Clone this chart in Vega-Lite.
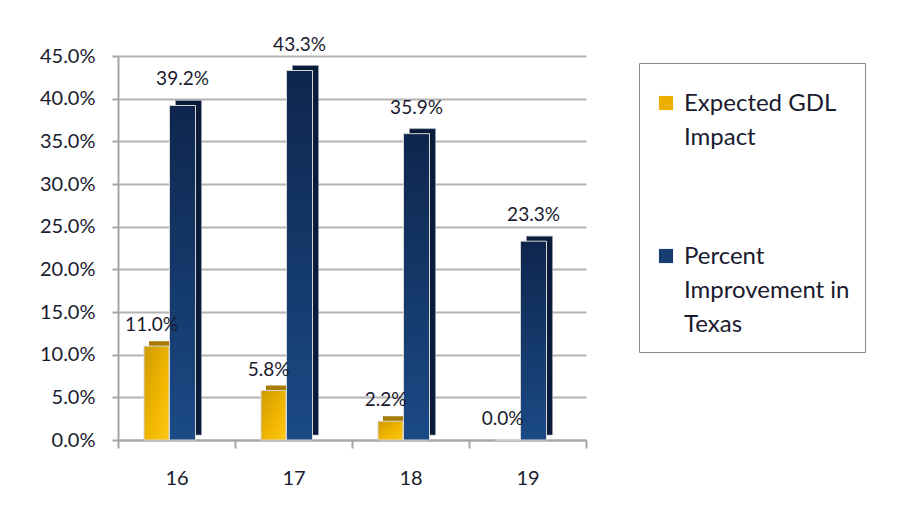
{
  "$schema": "https://vega.github.io/schema/vega-lite/v6.json",
  "width": 468,
  "height": 384,
  "autosize": "none",
  "padding": {"left": 118, "top": 56, "right": 319, "bottom": 83},
  "background": "white",
  "config": {"font": "Lato", "view": {"stroke": null}, "style": {"guide-label": {"lineHeight": 34}}},
  "data": {"values": [
    {"cat": "16", "series": "Expected GDL Impact", "value": 0.110},
    {"cat": "16", "series": "Percent Improvement in Texas", "value": 0.392},
    {"cat": "17", "series": "Expected GDL Impact", "value": 0.058},
    {"cat": "17", "series": "Percent Improvement in Texas", "value": 0.433},
    {"cat": "18", "series": "Expected GDL Impact", "value": 0.022},
    {"cat": "18", "series": "Percent Improvement in Texas", "value": 0.359},
    {"cat": "19", "series": "Expected GDL Impact", "value": 0.000},
    {"cat": "19", "series": "Percent Improvement in Texas", "value": 0.233}
  ]},
  "encoding": {
    "x": {
      "field": "cat", "type": "nominal", "title": null,
      "scale": {"paddingInner": 0, "paddingOuter": 0},
      "axis": {"labelAngle": 0, "labelFontSize": 20, "labelColor": "#1a1a2e", "labelPadding": 20,
               "domainColor": "#a6a6a6", "domainWidth": 2, "tickColor": "#a6a6a6", "tickWidth": 2, "tickSize": 8,
               "tickBand": "extent"}
    },
    "y": {
      "field": "value", "type": "quantitative", "title": null,
      "scale": {"domain": [0, 0.45], "nice": false},
      "axis": {"format": ".1%", "values": [0, 0.05, 0.1, 0.15, 0.2, 0.25, 0.3, 0.35, 0.4, 0.45],
               "labelFontSize": 20, "labelColor": "#1a1a2e", "labelPadding": 17,
               "domainColor": "#a6a6a6", "domainWidth": 2, "tickColor": "#a6a6a6", "tickWidth": 2, "tickSize": 6,
               "grid": true, "gridColor": "#b3b3b3", "gridWidth": 2}
    }
  },
  "layer": [
    {
      "transform": [{"filter": "datum.series == 'Expected GDL Impact'"}],
      "mark": {"type": "bar", "width": 25, "xOffset": -15, "yOffset": -5, "y2Offset": 3, "color": "#A87C00"}
    },
    {
      "transform": [{"filter": "datum.series == 'Percent Improvement in Texas'"}],
      "mark": {"type": "bar", "width": 26, "xOffset": 12, "yOffset": -5, "color": "#0A1C3A", "stroke": "#9aa3b3", "strokeWidth": 0.6}
    },
    {
      "mark": {"type": "bar", "width": 25, "xOffset": -20},
      "transform": [{"filter": "datum.series == 'Expected GDL Impact'"}],
      "encoding": {
        "color": {
          "field": "series", "type": "nominal", "title": " ",
          "scale": {"domain": ["Expected GDL Impact", "Percent Improvement in Texas"], "range": ["#EBB000", "#173E72"]},
          "legend": {
            "orient": "none", "legendX": 521, "legendY": 7,
            "strokeColor": "#8a8a8a", "fillColor": "white", "padding": 15,
            "titleFontSize": 9, "titlePadding": 4,
            "labelFontSize": 24, "labelColor": "#1a1a2e", "labelLimit": 0, "labelBaseline": "top", "labelOffset": 6,
            "symbolType": "square", "symbolSize": 200, "symbolStrokeWidth": 0, "rowPadding": 94,
            "labelExpr": "datum.label == 'Expected GDL Impact' ? ['Expected GDL', 'Impact'] : ['Percent', 'Improvement in', 'Texas']",
            "encode": {"labels": {"update": {"dy": {"value": -11}}}}
          }
        }
      }
    },
    {
      "mark": {"type": "bar", "width": 26, "xOffset": 6},
      "transform": [{"filter": "datum.series == 'Percent Improvement in Texas'"}],
      "encoding": {"color": {"field": "series", "type": "nominal"}}
    },
    {
      "transform": [{"filter": "datum.series == 'Expected GDL Impact'"}],
      "mark": {"type": "bar", "width": 25, "xOffset": -20, "stroke": "#d6d6d6", "strokeWidth": 1,
               "color": {"gradient": "linear", "x1": 0, "x2": 1, "y1": 0, "y2": 1,
                         "stops": [{"offset": 0, "color": "#CF9A00"}, {"offset": 0.6, "color": "#F2B800"}, {"offset": 1, "color": "#FFC81A"}]}}
    },
    {
      "transform": [{"filter": "datum.series == 'Percent Improvement in Texas'"}],
      "mark": {"type": "bar", "width": 26, "xOffset": 6, "stroke": "#d6d6d6", "strokeWidth": 1,
               "color": {"gradient": "linear", "x1": 0, "x2": 0, "y1": 0, "y2": 1,
                         "stops": [{"offset": 0, "color": "#0E264D"}, {"offset": 1, "color": "#1B4A86"}]}}
    },
    {
      "transform": [{"filter": "datum.series == 'Expected GDL Impact'"}],
      "mark": {"type": "text", "baseline": "bottom", "dy": -11, "xOffset": -25, "fontSize": 19, "color": "#1a1a2e"},
      "encoding": {"text": {"field": "value", "type": "quantitative", "format": ".1%"}}
    },
    {
      "transform": [{"filter": "datum.series == 'Percent Improvement in Texas'"}],
      "mark": {"type": "text", "baseline": "bottom", "dy": -16, "xOffset": 6, "fontSize": 19, "color": "#1a1a2e"},
      "encoding": {"text": {"field": "value", "type": "quantitative", "format": ".1%"}}
    }
  ]
}
